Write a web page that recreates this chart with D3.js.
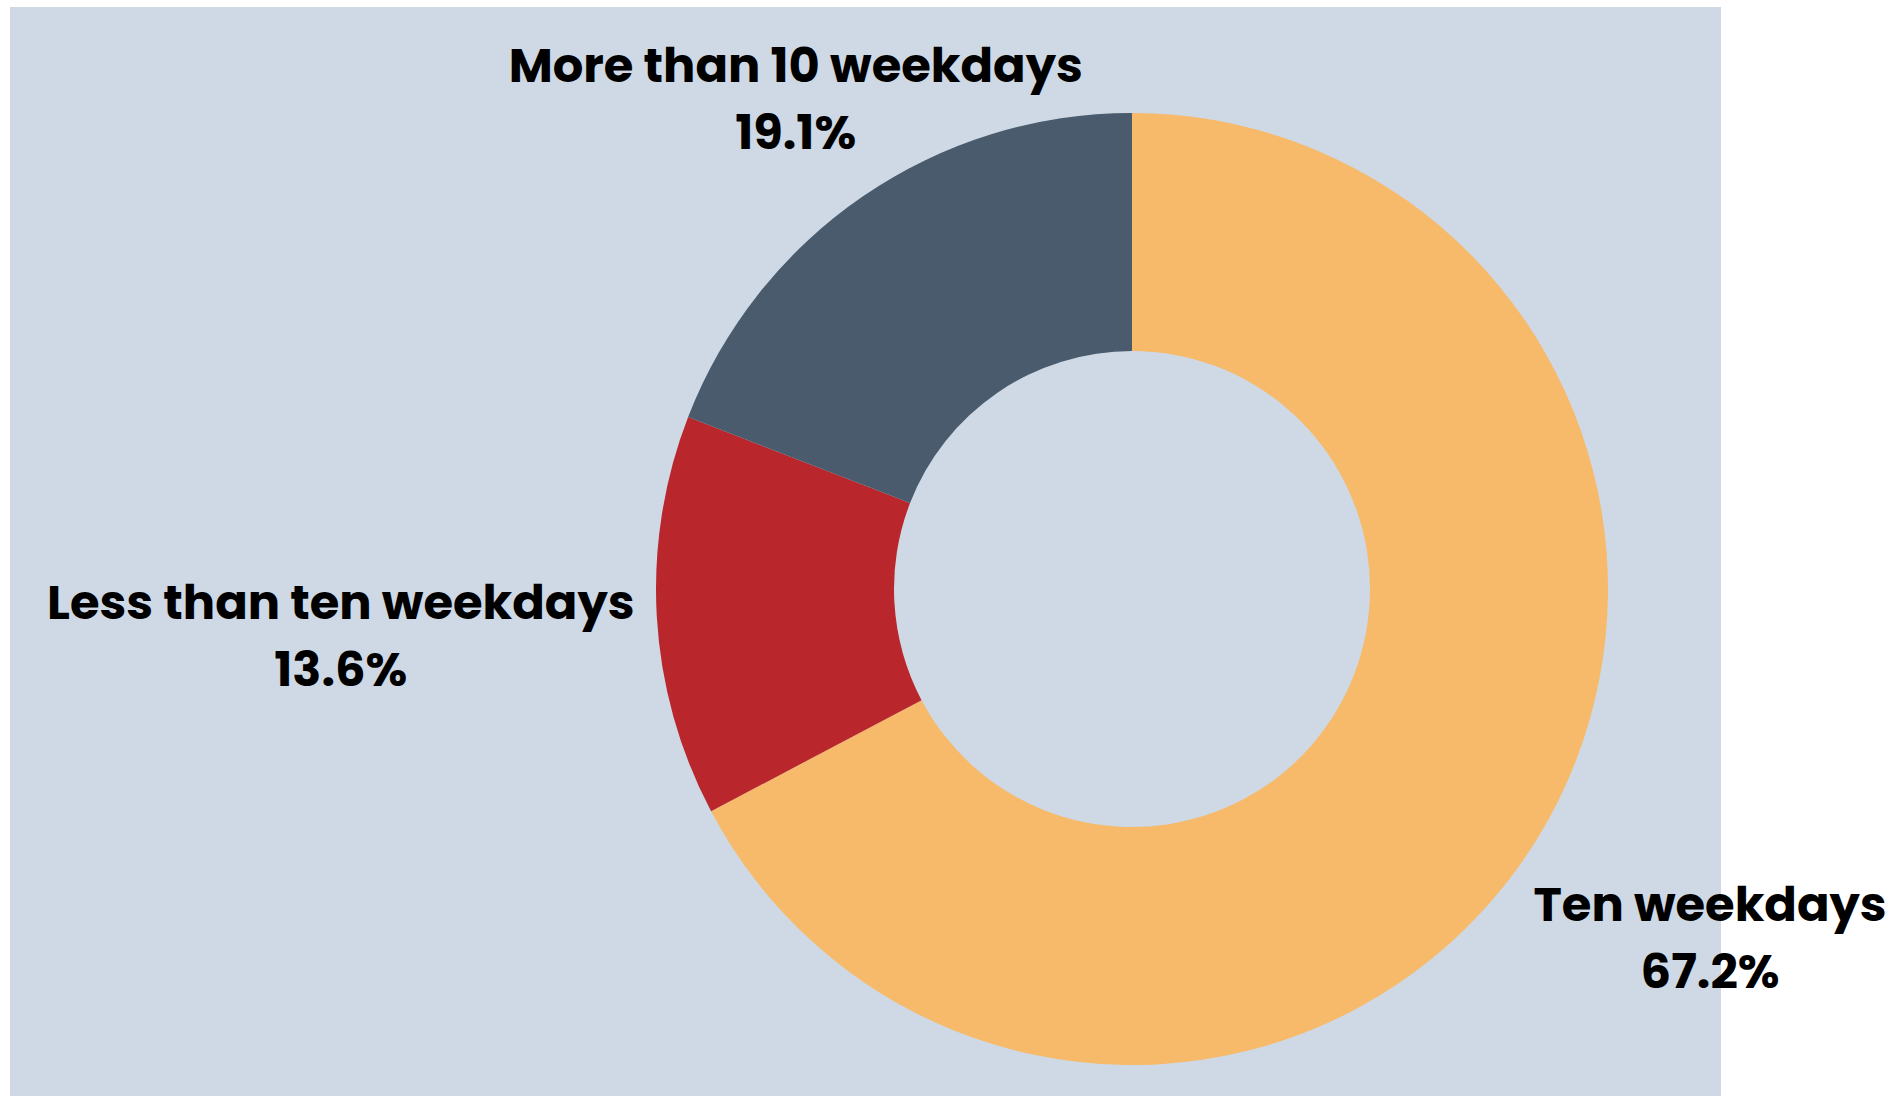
<!DOCTYPE html>
<html>
<head>
<meta charset="utf-8">
<script src="https://cdn.jsdelivr.net/npm/d3@7"></script>
<style>
  html, body { margin: 0; padding: 0; background: #ffffff; }
  svg { display: block; }
  .label { font-family: Poppins, "Noto Sans", sans-serif; font-weight: 700; fill: #000000; }
</style>
</head>
<body>
<div id="chart"></div>
<script>
// Data
const categories = ["Ten weekdays", "Less than ten weekdays", "More than 10 weekdays"];
const values = [67.2, 13.6, 19.1];
const valueLabels = ["67.2%", "13.6%", "19.1%"];
const sliceColors = ["#F6BA6A", "#B9272D", "#495B6C"];

// Layout constants
const WIDTH = 1893;
const HEIGHT = 1096;
const PANEL = { x: 10, y: 7, w: 1711, h: 1089 };
const CENTER = { x: 1132, y: 589 };
const OUTER_R = 476;
const INNER_R = 238;
const LABEL_DIST = [1.418, 1.665, 1.25];  // label distance from the centre, in outer radii
const FONT_SIZE = 48;
const LINE_GAP = 67;

setup();

function setup () {
    const svg = d3.select("#chart").append("svg")
        .attr("width", WIDTH)
        .attr("height", HEIGHT);

    // plot area background
    svg.append("rect")
        .attr("x", PANEL.x).attr("y", PANEL.y)
        .attr("width", PANEL.w).attr("height", PANEL.h)
        .attr("fill", "#CED9E5");

    const g = svg.append("g").attr("transform", `translate(${CENTER.x},${CENTER.y})`);

    const pie = d3.pie().sort(null).value(d => d.value);
    const data = categories.map((c, i) => ({ name: c, value: values[i], label: valueLabels[i], color: sliceColors[i], idx: i }));
    const arcs = pie(data);

    const arc = d3.arc().innerRadius(INNER_R).outerRadius(OUTER_R);

    g.selectAll(".slice")
        .data(arcs)
        .enter()
        .append("path")
        .attr("class", "slice")
        .attr("d", arc)
        .attr("fill", d => d.data.color);

    // Labels sit along the middle angle of each slice
    const labels = g.selectAll(".label")
        .data(arcs)
        .enter()
        .append("text")
        .attr("class", "label")
        .attr("text-anchor", "middle")
        .attr("font-size", FONT_SIZE)
        .attr("transform", d => {
            const r = OUTER_R * LABEL_DIST[d.data.idx];
            const [x, y] = d3.arc().innerRadius(r).outerRadius(r).centroid(d);
            return `translate(${x},${y})`;
        });

    labels.append("tspan")
        .attr("x", 0)
        .attr("y", -16.5)
        .text(d => d.data.name);

    labels.append("tspan")
        .attr("x", 0)
        .attr("y", -16.5 + LINE_GAP)
        .text(d => d.data.label);
}
</script>
</body>
</html>
